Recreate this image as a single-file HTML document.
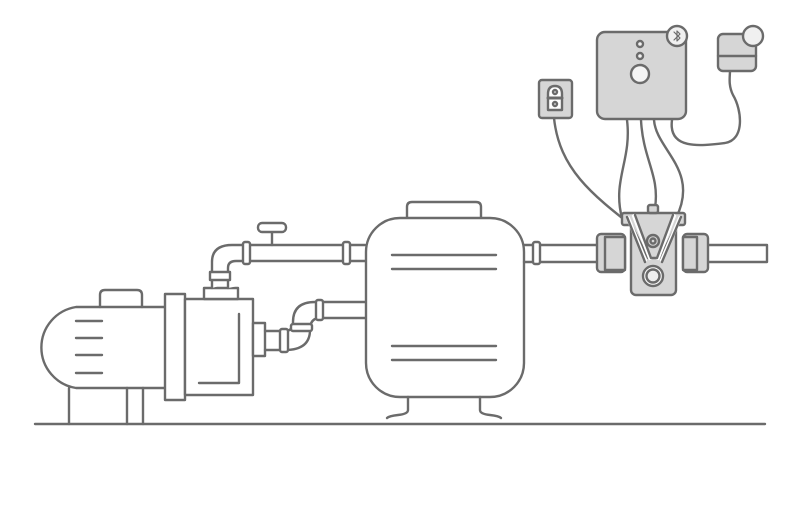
<!DOCTYPE html>
<html><head><meta charset="utf-8"><style>html,body{margin:0;padding:0;background:#fff}svg{display:block}</style></head>
<body>
<svg width="800" height="507" viewBox="0 0 800 507" xmlns="http://www.w3.org/2000/svg" fill="none" stroke="#6b6b6b" stroke-width="2.4" stroke-linecap="round" stroke-linejoin="round">
<!-- ground -->
<line x1="35" y1="424" x2="765" y2="424"/>
<!-- cables (behind) -->
<path d="M554 118 C 560 175, 600 200, 650 240"/>
<path d="M627 120 C 632 160, 612 180, 622 218"/>
<path d="M641 120 C 643 160, 660 175, 655 208"/>
<path d="M654 120 C 656 150, 700 170, 676 218"/>
<path d="M672 120 C 668 150, 700 146, 725 143 C 745 140, 742 110, 733 95 C 728 85, 730 76, 730 71"/>
<!-- motor -->
<path d="M165 307 H76 A41 41 0 0 0 76 388 H165" fill="#fff"/>
<path d="M100 307 V295 Q100 290 105 290 H137 Q142 290 142 295 V307"/>
<line x1="76" y1="321" x2="102" y2="321"/><line x1="76" y1="338" x2="102" y2="338"/>
<line x1="76" y1="355" x2="102" y2="355"/><line x1="76" y1="373" x2="102" y2="373"/>
<path d="M69 388 V424 M127 388 V424 M143 388 V424"/>
<rect x="165" y="294" width="20" height="106" fill="#fff"/>
<rect x="185" y="299" width="68" height="96" fill="#fff"/>
<path d="M239 314 V383 H199"/>
<!-- top outlet pipe -->
<rect x="204" y="288" width="34" height="11" fill="#fff"/>
<path d="M212 288 V262 Q212 245 232 245 H365 M228 288 V268 Q228 261 236 261 H365" fill="#fff"/>
<rect x="210" y="272" width="20" height="8" fill="#fff"/>
<rect x="243" y="242" width="7" height="22" rx="2" fill="#fff"/>
<rect x="343" y="242" width="7" height="22" rx="2" fill="#fff"/>
<line x1="272" y1="245" x2="272" y2="233"/>
<rect x="258" y="223" width="28" height="9" rx="4" fill="#fff"/>
<!-- right outlet pipe -->
<rect x="253" y="323" width="12" height="33" fill="#fff"/>
<path d="M265 331 H285 M265 350 H285 Q310 350 310 330 Q310 318 320 318 H365 M285 331 Q293 331 293 322 Q293 302 315 302 H365"/>
<rect x="280" y="329" width="8" height="23" rx="2" fill="#fff"/>
<rect x="291" y="324" width="21" height="7" rx="2" fill="#fff"/>
<rect x="316" y="300" width="7" height="20" rx="2" fill="#fff"/>
<!-- tank -->
<path d="M407 218 V207 Q407 202 412 202 H476 Q481 202 481 207 V218" fill="#fff"/>
<rect x="366" y="218" width="158" height="179" rx="34" fill="#fff"/>
<line x1="392" y1="255" x2="496" y2="255"/><line x1="392" y1="269" x2="496" y2="269"/>
<line x1="392" y1="346" x2="496" y2="346"/><line x1="392" y1="360" x2="496" y2="360"/>
<path d="M408 397 V410 Q408 414 398 415 Q389 416 387 418"/>
<path d="M480 397 V410 Q480 414 490 415 Q499 416 501 418"/>
<!-- right pipe -->
<path d="M524 245 H600 M524 262 H600 M706 245 H767 V262 H706"/>
<rect x="533" y="242" width="7" height="22" rx="2" fill="#fff"/>
<!-- valve -->
<rect x="597" y="234" width="28" height="38" rx="4" fill="#d6d6d6"/>
<rect x="605" y="237" width="20" height="33" fill="#d6d6d6"/>
<rect x="683" y="234" width="25" height="38" rx="4" fill="#d6d6d6"/>
<rect x="683" y="237" width="14" height="33" fill="#d6d6d6"/>
<rect x="631" y="222" width="45" height="73" rx="5" fill="#d6d6d6"/>
<rect x="622" y="213" width="63" height="12" rx="2" fill="#d6d6d6"/>
<rect x="648" y="205" width="10" height="8" rx="2" fill="#d6d6d6"/>
<path d="M630 222 L648 258 H660 L678 222" fill="#d6d6d6"/>
<path d="M628 218 L645 260 M634 216 L650 258 M680 218 L662 260 M674 216 L658 258" stroke="#fff" stroke-width="4"/>
<path d="M627 217 L645 262 M635 215 L651 258 M681 217 L662 262 M673 215 L657 258"/>
<circle cx="653" cy="241" r="6" fill="#d6d6d6"/><circle cx="653" cy="241" r="2.5"/>
<circle cx="653" cy="276" r="10" fill="#fff"/><circle cx="653" cy="276" r="6.5" fill="#eee"/>
<!-- outlet box -->
<rect x="539" y="80" width="33" height="38" rx="3" fill="#d6d6d6"/>
<path d="M548 110 V94 Q548 86 555 86 Q562 86 562 94 V110 Z" fill="#fff"/>
<circle cx="555" cy="92" r="2" fill="#fff"/><circle cx="555" cy="104" r="2" fill="#fff"/>
<line x1="548" y1="98" x2="562" y2="98" stroke-width="3"/>
<!-- controller -->
<rect x="597" y="32" width="89" height="87" rx="8" fill="#d6d6d6"/>
<circle cx="640" cy="44" r="3" fill="#f2f2f2"/><circle cx="640" cy="56" r="3" fill="#f2f2f2"/>
<circle cx="640" cy="74" r="9" fill="#f5f5f5"/>
<circle cx="677" cy="36" r="10" fill="#f0f0f0"/>
<path d="M674 32 L680 38 L677 41 V31 L680 34 L674 40" stroke-width="1.2"/>
<!-- sensor -->
<rect x="718" y="34" width="38" height="37" rx="5" fill="#d6d6d6"/>
<line x1="718" y1="56" x2="756" y2="56"/>
<circle cx="753" cy="36" r="10" fill="#f0f0f0"/>
</svg>
</body></html>
